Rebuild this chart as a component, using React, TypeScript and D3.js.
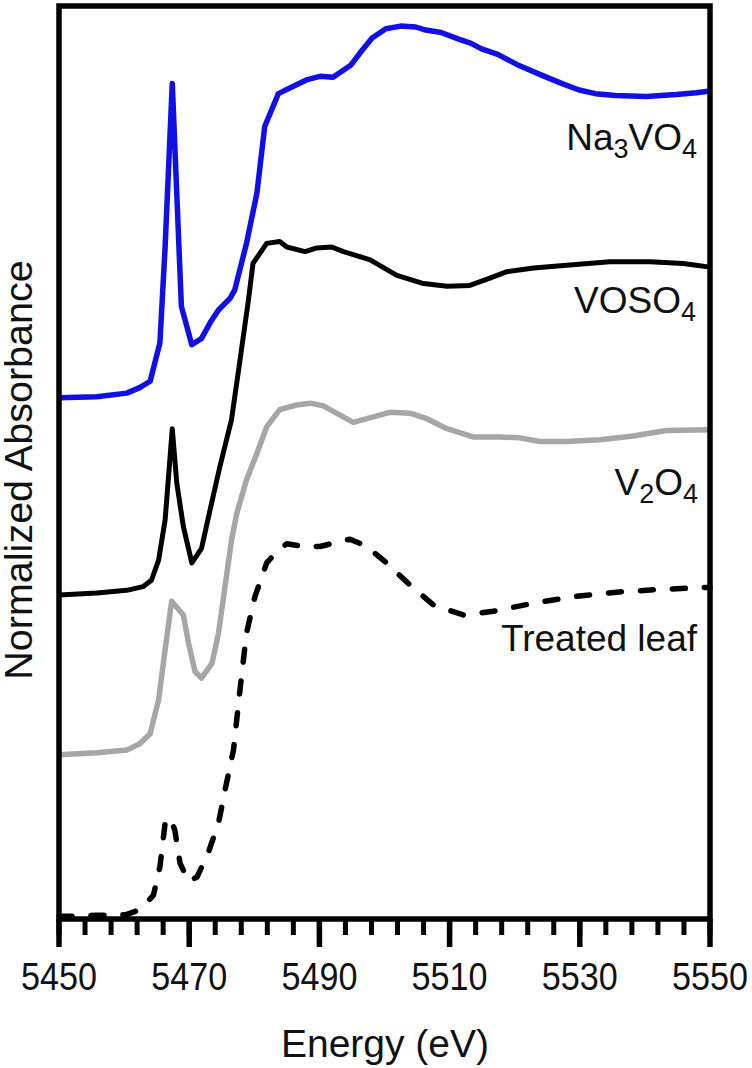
import React from "react";
import * as d3 from "d3";

// Energy (eV) grid per series and offset-stacked normalized absorbance values
const naE = [5450, 5455.8, 5460.4, 5462.4, 5464.0, 5465.5, 5466.3, 5467.4, 5468.8, 5470.4, 5471.9, 5473.2, 5474.5, 5476.3, 5477.0, 5478.8, 5480.4, 5481.6, 5483.7, 5486.0, 5488.0, 5490.1, 5492.1, 5494.8, 5496.5, 5498.1, 5500.2, 5502.5, 5504.8, 5506.1, 5508.7, 5511.3, 5513.3, 5514.9, 5517.4, 5520.6, 5524.2, 5527.3, 5529.9, 5532.4, 5535.5, 5540.2, 5544.8, 5547.9, 5550];
const naY = [5.71, 5.72, 5.76, 5.82, 5.89, 6.31, 7.36, 9.15, 6.71, 6.29, 6.36, 6.53, 6.67, 6.80, 6.89, 7.40, 7.95, 8.68, 9.04, 9.12, 9.19, 9.23, 9.22, 9.35, 9.51, 9.65, 9.75, 9.78, 9.77, 9.74, 9.71, 9.64, 9.59, 9.53, 9.47, 9.35, 9.24, 9.15, 9.08, 9.04, 9.02, 9.01, 9.03, 9.05, 9.07];

const vosE = [5450, 5455.8, 5460.4, 5462.9, 5464.2, 5465.3, 5466.3, 5467.4, 5468.1, 5469.1, 5470.4, 5471.9, 5473.2, 5474.7, 5476.5, 5477.8, 5479.1, 5479.8, 5481.9, 5483.9, 5485.0, 5487.8, 5489.6, 5491.9, 5493.7, 5497.8, 5501.9, 5506.0, 5509.6, 5513.1, 5516.2, 5518.8, 5522.9, 5528.0, 5534.6, 5540.8, 5545.9, 5550];
const vosY = [3.55, 3.57, 3.60, 3.64, 3.71, 3.93, 4.37, 5.37, 4.77, 4.30, 3.90, 4.06, 4.48, 4.95, 5.47, 6.12, 6.78, 7.18, 7.40, 7.42, 7.36, 7.31, 7.35, 7.36, 7.31, 7.22, 7.05, 6.96, 6.93, 6.94, 7.02, 7.09, 7.13, 7.16, 7.20, 7.20, 7.18, 7.14];

const v2oE = [5450, 5455.8, 5460.4, 5462.4, 5464.0, 5465.3, 5466.3, 5467.3, 5469.1, 5469.9, 5470.9, 5471.9, 5473.5, 5474.5, 5475.5, 5476.5, 5477.3, 5478.8, 5480.4, 5481.9, 5483.9, 5486.5, 5488.6, 5490.6, 5495.2, 5497.3, 5500.8, 5503.9, 5506.5, 5509.6, 5513.6, 5517.7, 5520.8, 5523.9, 5528.0, 5533.1, 5538.2, 5543.3, 5550];
const v2oY = [1.80, 1.82, 1.85, 1.92, 2.03, 2.40, 2.95, 3.48, 3.33, 3.02, 2.71, 2.64, 2.80, 3.13, 3.64, 4.15, 4.44, 4.81, 5.10, 5.39, 5.58, 5.63, 5.65, 5.62, 5.44, 5.48, 5.55, 5.54, 5.48, 5.37, 5.28, 5.28, 5.27, 5.23, 5.23, 5.25, 5.29, 5.35, 5.36];

const leafE = [5450, 5452.7, 5455.8, 5457.8, 5460.4, 5462.4, 5464.5, 5465.5, 5466.3, 5467.1, 5467.8, 5468.6, 5469.9, 5471.2, 5472.9, 5474.5, 5475.5, 5476.8, 5477.8, 5478.8, 5480.1, 5481.9, 5483.4, 5485.0, 5487.5, 5490.1, 5492.4, 5494.7, 5497.3, 5500.3, 5503.9, 5507.5, 5512.1, 5516.7, 5522.9, 5529.0, 5535.7, 5542.4, 5549.0, 5550];
const leafY = [0.03, 0.03, 0.04, 0.04, 0.05, 0.10, 0.26, 0.57, 1.05, 1.11, 0.97, 0.61, 0.41, 0.46, 0.72, 1.05, 1.41, 1.85, 2.51, 3.13, 3.53, 3.90, 4.02, 4.11, 4.08, 4.08, 4.12, 4.16, 4.08, 3.90, 3.66, 3.44, 3.33, 3.37, 3.46, 3.53, 3.58, 3.61, 3.63, 3.63];

const xTicks = [5450, 5470, 5490, 5510, 5530, 5550];
const minorTicks = d3.range(5450, 5551, 4);

const W = 752;
const H = 1068;
const X0 = 59;
const X1 = 710;
const Y0 = 919;
const Y1 = 6;

const font = "'Liberation Sans', Arial, Helvetica, sans-serif";

export default function App() {
  const x = d3.scaleLinear().domain([5450, 5550]).range([X0, X1]);
  const y = d3.scaleLinear().domain([0, 10]).range([Y0, Y1]);
  const mk = (E: number[], V: number[]) =>
    d3.line<number>().x((_, i) => x(E[i])).y((_, i) => y(V[i]))(V.map((v) => v)) || "";

  const series = [
    { d: mk(naE, naY), color: "#0f0fe6", width: 5.5, dash: undefined },
    { d: mk(vosE, vosY), color: "#000000", width: 5, dash: undefined },
    { d: mk(v2oE, v2oY), color: "#a6a6a6", width: 5.5, dash: undefined },
    { d: mk(leafE, leafY), color: "#000000", width: 5.5, dash: "13 19" },
  ];

  return (
    <svg
      width={W}
      height={H}
      style={{ position: "absolute", left: 0, top: 0, background: "#fff" }}
      fontFamily={font}
    >
      <rect x={0} y={0} width={W} height={H} fill="#fff" />
      {series.map((s, i) => (
        <path
          key={i}
          d={s.d}
          fill="none"
          stroke={s.color}
          strokeWidth={s.width}
          strokeLinejoin="round"
          strokeLinecap={s.dash ? "round" : "butt"}
          strokeDasharray={s.dash}
        />
      ))}
      {/* frame */}
      <rect x={X0} y={Y1} width={X1 - X0} height={Y0 - Y1} fill="none" stroke="#000" strokeWidth={5.5} />
      {minorTicks.map((t) => (
        <line key={"m" + t} x1={x(t)} x2={x(t)} y1={Y0} y2={935} stroke="#000" strokeWidth={5} />
      ))}
      {xTicks.map((t) => (
        <line key={"M" + t} x1={x(t)} x2={x(t)} y1={Y0} y2={947} stroke="#000" strokeWidth={5.5} />
      ))}
      {xTicks.map((t) => (
        <text
          key={"l" + t}
          x={x(t)}
          y={990}
          fontSize={38}
          textAnchor="middle"
          textLength={76}
          lengthAdjust="spacingAndGlyphs"
          fill="#111"
        >
          {t}
        </text>
      ))}
      <text x={385} y={1057} fontSize={39} textAnchor="middle" fill="#111">
        Energy (eV)
      </text>
      <text
        transform={`translate(32,470) rotate(-90)`}
        fontSize={39.5}
        textAnchor="middle"
        fill="#111"
      >
        Normalized Absorbance
      </text>
      {/* series labels */}
      <text x={697} y={150} fontSize={37} textAnchor="end" fill="#111">
        Na<tspan fontSize={27} dy={8}>3</tspan>
        <tspan dy={-8}>VO</tspan>
        <tspan fontSize={27} dy={8}>4</tspan>
      </text>
      <text x={696} y={313} fontSize={37} textAnchor="end" fill="#111">
        VOSO<tspan fontSize={27} dy={8}>4</tspan>
      </text>
      <text x={698} y={495} fontSize={37} textAnchor="end" fill="#111">
        V<tspan fontSize={27} dy={8}>2</tspan>
        <tspan dy={-8}>O</tspan>
        <tspan fontSize={27} dy={8}>4</tspan>
      </text>
      <text x={697} y={651} fontSize={37} textAnchor="end" fill="#111">
        Treated leaf
      </text>
    </svg>
  );
}
